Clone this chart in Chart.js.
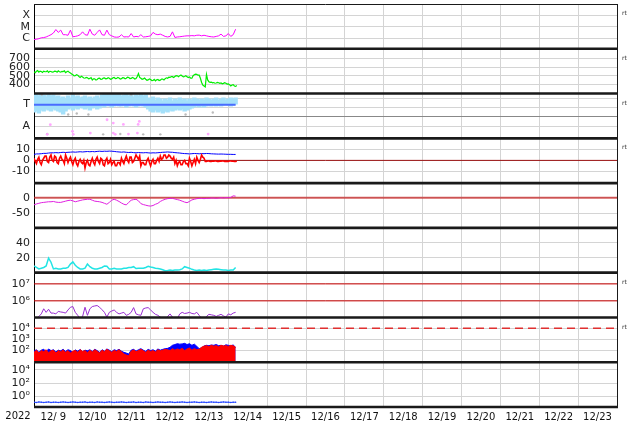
<!DOCTYPE html>
<html>
<head>
<meta charset="utf-8">
<script src="https://cdn.jsdelivr.net/npm/chart.js@4.4.1/dist/chart.umd.min.js"></script>
<style>
  html, body { margin: 0; padding: 0; background: #fff; }
  canvas { display: block; }
</style>
</head>
<body>
<canvas id="stack" width="634" height="424"></canvas>
<script>
// x = days since 2022-12-09 00:00, one sample every 1.5 h (45 min for the noisy series)
var STEP = 1 / 16;
var FINE_STEP = 1 / 32;
var DATA_END = 83 * STEP;
var dayTicks = [0, 1, 2, 3, 4, 5, 6, 7, 8, 9, 10, 11, 12, 13, 14, 15];
var dayLabels = ['12/ 9', '12/10', '12/11', '12/12', '12/13', '12/14', '12/15', '12/16',
  '12/17', '12/18', '12/19', '12/20', '12/21', '12/22', '12/23', ''];

// panel 1 : X-ray class (C=1, M=2, X=3)
var xrayClass = [
  0.88, 0.9, 0.95, 1.03, 1.05, 1.1, 1.2, 1.3, 1.45, 1.75, 1.5, 1.7,
  1.3, 1.3, 1.25, 1.7, 1.12, 1.15, 1.2, 1.3, 1.55, 1.3, 1.25, 1.78,
  1.35, 1.25, 1.5, 1.72, 1.3, 1.25, 1.7, 1.3, 1.2, 1.1, 1.08, 1.1,
  1.3, 1.1, 1.12, 1.1, 1.4, 1.1, 1.15, 1.12, 1.3, 1.1, 1.12, 1.15,
  1.2, 1.5, 1.35, 1.3, 1.35, 1.25, 1.15, 1.1, 1.15, 1.55, 1.06, 1.1,
  1.12, 1.15, 1.18, 1.2, 1.2, 1.22, 1.2, 1.25, 1.26, 1.2, 1.25, 1.2,
  1.15, 1.12, 1.1, 1.15, 1.2, 1.35, 1.15, 1.2, 1.4, 1.15, 1.3, 1.78];

// panel 2 : solar wind speed (fine steps)
var windSpeed = [
  545, 535, 550, 558, 540, 552, 548, 538, 552, 545, 545, 556, 538, 550, 548, 540, 542, 553, 550, 540, 555, 545, 540, 550,
  548, 556, 535, 545, 552, 538, 530, 520, 510, 498, 500, 512, 505, 490, 480, 492, 485, 472, 470, 480, 475, 462, 468, 478,
  450, 462, 462, 448, 455, 468, 470, 458, 460, 472, 475, 463, 465, 476, 470, 458, 462, 474, 478, 466, 468, 480, 472, 460,
  465, 476, 475, 463, 470, 482, 478, 466, 468, 479, 472, 461, 466, 490, 525, 480, 470, 458, 462, 473, 458, 446, 450, 462,
  455, 443, 445, 456, 440, 451, 455, 444, 448, 460, 460, 450, 465, 475, 470, 482, 480, 490, 488, 478, 490, 500, 498, 488,
  500, 508, 495, 486, 490, 498, 488, 478, 485, 470, 470, 500, 510, 518, 515, 505, 505, 470, 420, 390, 380, 370, 515, 450,
  430, 422, 425, 416, 420, 412, 415, 422, 418, 410, 415, 405, 410, 418, 412, 402, 405, 395, 380, 392, 395, 380, 375, 385];

// panel 3 : T / A band (upper and lower edge of the dense point cloud)
var T_LEVEL = 33.7;
var bandTop = [
  43, 44, 42, 44, 43, 41, 44, 42, 43, 41, 42, 40,
  41, 39, 42, 40, 43, 41, 42, 40, 41, 42, 40, 41,
  39, 41, 42, 40, 43, 44, 43, 44, 42, 44, 43, 44,
  42, 43, 44, 42, 43, 41, 43, 42, 44, 42, 43, 40,
  39, 41, 38, 40, 39, 37, 39, 38, 40, 37, 39, 38,
  40, 38, 39, 37, 39, 38, 40, 39, 38, 39, 38, 40,
  39, 38, 39, 40, 38, 39, 40, 38, 39, 40, 39, 40];
var bandBottom = [
  27, 28, 26, 29, 28, 30, 29, 28, 30, 29, 28, 27,
  25, 28, 30, 31, 29, 31, 30, 32, 31, 30, 31, 29,
  31, 32, 30, 31, 33, 32, 34, 33, 32, 33, 34, 33,
  33, 34, 32, 33, 34, 33, 32, 33, 34, 33, 32, 30,
  28, 27, 29, 27, 28, 26, 28, 27, 29, 28, 29, 30,
  29, 30, 28, 29, 30, 31, 32, 33, 32, 33, 32, 33,
  34, 33, 34, 33, 34, 33, 34, 35, 34, 33, 34, 35];
var pinkDays = [0.42, 0.34, 0.99, 1.01, 1.45, 1.88, 2.04, 2.04, 2.09, 2.3, 2.43, 2.66, 2.71, 2.68, 4.48];
var pinkVals = [13.7, 4, 7, 4, 5.3, 18.7, 15.3, 5.3, 4, 14, 4.3, 5.3, 17, 14, 4.3];
var grayDays = [0.34, 0.88, 1.4, 1.78, 2.22, 2.81, 3.25, 0.2, 1.1, 2.5, 3.9, 4.6];
var grayVals = [4.3, 24, 24, 4, 4.3, 4, 4, 44, 25, 44, 24, 26];

// panel 4 : IMF Bt (blue) and Bz (red, fine steps)
var imfBt = [
  5.5, 6, 6, 6.2, 6.5, 6.5, 6.8, 7, 7, 7.2, 7, 7.3,
  7.5, 7.3, 7.5, 7.6, 7.8, 7.6, 7.8, 8, 7.8, 8, 8.2, 8,
  8.2, 8, 8.3, 8.5, 8.3, 8.5, 8.4, 8.6, 8.5, 8.3, 8, 7.8,
  7.6, 7.8, 7.5, 7.3, 7.5, 7.2, 7, 7.3, 7.1, 7, 7.2, 7,
  6.8, 7, 6.9, 7.1, 7.3, 7.5, 7.6, 7.8, 7.6, 7.5, 7.2, 7,
  6.8, 6.5, 6.3, 6.2, 6, 6.2, 6.4, 6.3, 6.1, 6.3, 6.2, 6.4,
  6.3, 6.1, 6, 5.9, 5.8, 5.9, 5.8, 5.7, 5.6, 5.6, 5.5, 5.5];
var imfBz = [
  2, -1, -3, 1, 3, -2, -4, 0, 2, 4,
  4, -1, -2, 3, 5, 0, -1, 4, 3, -2, -3, 2, 4, 1, 0, -3, 5, 2, -2, 1, 3, -1,
  -4, 0, 2, -3, -5, -1, 1, -2,
  -3, 0, -7, -2, 0, -4, -5, -1,
  2, -2, -4, 1, 3, -1, -3, 2, 1, -4, -5, 0, 2, -3, -2, 1,
  -4, -2, -1, -5, -5, -2, -2, -4,
  2, -1, -3, 1, 4, 0, -2, 3, 3, -2, -1, 2,
  5, 3, 1, 4, -5, -2, -2, -4,
  -4, 0, 2, -2, -5, -1, 1, -3, -3, 0, 2, -1,
  4, 1, 2, 5, 5, 2, 3, 5, 4, 2, 1, 3,
  -3, 0, -5, -2, -1, -4, -4, -1, 0, -3, -3, -5,
  2, -1, -5, -2, 1, -3, 3, 0, -2, 1, 5, 3, 2, -1,
  -1, -0.5, -0.5, -1, -1, -0.6, -0.8, -0.5, -0.5, -1, -1, -0.7, -0.7,
  -0.5, -0.5, -0.9, -0.8, -1, -1, -0.6, -0.6, -0.8, -0.8, -1, -1, -0.8];

// panel 5
var dstIndex = [
  -23, -20, -18, -16, -15, -14, -13, -13, -12, -14, -15, -15,
  -13, -11, -9, -8, -10, -13, -11, -9, -7, -6, -5, -5,
  -8, -11, -12, -13, -15, -18, -21, -15, -8, -5, -8, -12,
  -17, -21, -23, -15, -8, -6, -5, -10, -19, -22, -24, -26,
  -27, -25, -21, -18, -12, -8, -5, -3, -2, -2, -4, -6,
  -8, -11, -14, -16, -12, -7, -5, -3, -2, -2, -3, -2,
  -2, -1, -1, -2, -1, 0, -1, 0, 0, 1, 6, 5];

// panel 6
var density = [
  9, 7, 5, 6, 7, 9, 19.5, 14, 5, 6, 5, 5,
  6, 6, 7, 11.5, 14.5, 10, 7, 5, 5, 6, 11.5, 8,
  6, 5, 5, 6, 7, 9, 8.5, 5, 5, 6, 5, 5,
  5, 6, 6, 7, 7, 8, 5.5, 6, 6, 6, 7, 8.5,
  7.5, 7, 6, 5.5, 5, 4, 2.7, 3, 3.5, 3, 3.5, 3.5,
  4, 5, 8, 7, 6, 4.5, 3.5, 3, 3.5, 3, 3.5, 3,
  3.5, 4, 4.5, 5, 4.5, 4, 3.5, 3.5, 3, 3.5, 3.5, 7];

// panel 7 : electron flux, thresholds 1e7 / 1e6
var electronFlux = [
  0.8e5, 0.9e5, 1.2e5, 1.7e5, 3.4e5, 2.1e5, 3.2e5, 1.9e5, 1.9e5, 1.7e5, 2.4e5, 2.2e5,
  2.1e5, 1.9e5, 2.9e5, 4.2e5, 4.6e5, 2.1e5, 1.4e5, 0.9e5, 1.2e5, 4.2e5, 1.4e5, 3.4e5,
  4.6e5, 5e5, 5.3e5, 4.2e5, 3e5, 2.1e5, 1.1e5, 2.1e5, 2.5e5, 2.9e5, 2.1e5, 1.7e5,
  1.9e5, 2.1e5, 1.4e5, 1.6e5, 2.1e5, 4e5, 1.7e5, 1.5e5, 1.4e5, 3.4e5, 3.8e5, 4e5,
  2.9e5, 2.1e5, 1.6e5, 1.4e5, 1.1e5, 0.8e5, 0.8e5, 1.2e5, 1.7e5, 1.1e5, 0.8e5, 0.9e5,
  1.7e5, 2.1e5, 1.8e5, 1.9e5, 2.1e5, 1.8e5, 1.7e5, 2.1e5, 1.4e5, 0.9e5, 0.8e5, 1.2e5,
  1.6e5, 1.5e5, 1.4e5, 1.2e5, 1.4e5, 1.6e5, 1.3e5, 1.1e5, 1.7e5, 1.5e5, 1.9e5, 2.1e5];
var electronLimits = [1e7, 1e6];

// panel 8 : two channels, threshold 1e4
var fluxBlue = [
  90, 120, 70, 110, 130, 80, 140, 100, 120, 75, 110, 95,
  130, 85, 120, 100, 70, 115, 90, 125, 80, 110, 95, 120,
  85, 130, 100, 70, 120, 90, 140, 110, 80, 120, 100, 130,
  90, 70, 60, 50, 110, 130, 90, 120, 150, 110, 85, 130,
  100, 120, 90, 140, 110, 130, 150, 160, 200, 300, 350, 420,
  380, 400, 450, 350, 420, 300, 380, 250, 150, 180, 260, 300,
  280, 320, 300, 350, 280, 300, 260, 330, 300, 280, 320, 200];
var fluxRed = [
  70, 110, 60, 100, 80, 120, 65, 95, 110, 60, 100, 80,
  115, 70, 100, 60, 90, 105, 70, 120, 85, 100, 65, 110,
  75, 120, 90, 60, 110, 80, 130, 95, 70, 105, 85, 120,
  80, 50, 40, 35, 90, 115, 80, 100, 130, 95, 70, 110,
  85, 100, 75, 120, 95, 110, 130, 120, 100, 150, 110, 140,
  120, 160, 100, 140, 170, 110, 150, 120, 130, 200, 250, 280,
  230, 300, 250, 280, 220, 300, 260, 280, 240, 300, 270, 200];
var fluxLimit = 1e4;

// panel 9
var lowFlux = [
  0.13, 0.12, 0.14, 0.13, 0.12, 0.13, 0.14, 0.12, 0.13, 0.13, 0.12, 0.13,
  0.14, 0.13, 0.12, 0.13, 0.14, 0.13, 0.12, 0.13, 0.13, 0.14, 0.12, 0.13,
  0.13, 0.12, 0.14, 0.13, 0.13, 0.12, 0.13, 0.14, 0.13, 0.12, 0.13, 0.13,
  0.14, 0.13, 0.12, 0.13, 0.13, 0.14, 0.12, 0.13, 0.13, 0.12, 0.14, 0.13,
  0.13, 0.12, 0.13, 0.14, 0.13, 0.13, 0.12, 0.13, 0.14, 0.13, 0.12, 0.13,
  0.13, 0.14, 0.13, 0.12, 0.13, 0.13, 0.14, 0.13, 0.12, 0.13, 0.13, 0.12,
  0.13, 0.14, 0.13, 0.13, 0.12, 0.13, 0.14, 0.13, 0.13, 0.12, 0.13, 0.13];

var FONT = 'DejaVu Sans';

function pts(vals, step) {
  step = step || STEP;
  return vals.map(function(v, i) { return {x: i * step, y: v}; });
}
function ranges(lo, hi) {
  return lo.map(function(v, i) { return {x: i * STEP, y: [v, hi[i]]}; });
}
function pairs(days, vals) {
  return days.map(function(d, i) { return {x: d, y: vals[i]}; });
}
function flat(v, x0, x1) {
  return [{x: x0, y: v}, {x: x1, y: v}];
}
function line(axis, data, color, width, extra) {
  var ds = {yAxisID: axis, data: data, borderColor: color, borderWidth: width,
    pointRadius: 0, tension: 0, fill: false};
  return Object.assign(ds, extra || {});
}

function yAxis(weight, type, min, max, ticks, labels, gridColor) {
  return {
    type: type, position: 'left', stack: 'panels', stackWeight: 1, weight: weight,
    min: min, max: max,
    grid: {drawTicks: false, color: gridColor || '#d4d4d4'},
    border: {color: '#000', width: 1},
    ticks: {
      font: {family: FONT, size: 11}, color: '#222', padding: 4, autoSkip: false,
      callback: function(v) { return labels[v] !== undefined ? labels[v] : ''; }
    },
    afterBuildTicks: function(s) { s.ticks = ticks.map(function(v) { return {value: v}; }); },
    afterFit: function(s) { s.width = 34; s.paddingTop = 0; s.paddingBottom = 0; }
  };
}

var panelTicks3 = [40, 34, 31, 22.3, 12];
var panelLabels3 = {34: 'T', 12: 'A'};

var panelDecor = {
  id: 'panelDecor',
  beforeDatasetDraw: function(chart, args) {
    var ys = args.meta.yScale, a = chart.chartArea, ctx = chart.ctx;
    ctx.save();
    ctx.beginPath();
    ctx.rect(a.left, ys.top, a.right - a.left, ys.bottom - ys.top);
    ctx.clip();
  },
  afterDatasetDraw: function(chart) {
    chart.ctx.restore();
  },
  afterDraw: function(chart) {
    var ctx = chart.ctx, a = chart.chartArea;
    var ids = ['y1', 'y2', 'y3', 'y4', 'y5', 'y6', 'y7', 'y8', 'y9'];
    ctx.save();
    ctx.strokeStyle = '#1a1a1a';
    ctx.lineWidth = 1;
    ctx.beginPath();
    ctx.moveTo(a.left, a.top + 0.5); ctx.lineTo(a.right, a.top + 0.5);
    ctx.moveTo(a.right + 0.5, a.top); ctx.lineTo(a.right + 0.5, a.bottom);
    ctx.stroke();
    ctx.lineWidth = 2.6;
    ctx.beginPath();
    ids.slice(1).forEach(function(id) {
      var s = chart.scales[id];
      ctx.moveTo(a.left, s.top); ctx.lineTo(a.right + 1, s.top);
    });
    ctx.moveTo(a.left, a.bottom); ctx.lineTo(a.right + 1, a.bottom);
    ctx.stroke();

    ctx.fillStyle = '#333';
    ctx.font = '6px ' + FONT;
    ctx.textAlign = 'left';
    ctx.textBaseline = 'middle';
    ['y1', 'y2', 'y3', 'y4', 'y7', 'y8'].forEach(function(id) {
      ctx.fillText('rt', a.right + 5, chart.scales[id].top + 9.5);
    });

    ctx.fillStyle = '#111';
    ctx.font = '10px ' + FONT;
    ctx.textAlign = 'center';
    ctx.textBaseline = 'top';
    ctx.fillText('2022', 18, a.bottom + 4);
    ctx.restore();
  }
};

var datasets = [
  line('y1', pts(xrayClass), '#ff00ff', 1),
  line('y2', pts(windSpeed, FINE_STEP), '#00ee00', 1.2),
  {type: 'bar', yAxisID: 'y3', data: ranges(bandBottom, bandTop), backgroundColor: '#a4e0fa',
    borderWidth: 0, barPercentage: 1, categoryPercentage: 1, grouped: false, inflateAmount: 1},
  line('y3', pairs(grayDays, grayVals), '#bbbbbb', 0, {showLine: false, pointRadius: 1.2, pointBackgroundColor: '#bbbbbb', pointBorderWidth: 0}),
  line('y3', pairs(pinkDays, pinkVals), '#ffa8ff', 0, {showLine: false, pointRadius: 1.4, pointBackgroundColor: '#ffa8ff', pointBorderWidth: 0}),
  line('y3', flat(T_LEVEL, 0, DATA_END), '#4a6cff', 2),
  line('y4', flat(0, 0, 15), '#9b1010', 1),
  line('y4', pts(imfBt), '#0000ff', 1),
  line('y4', pts(imfBz, FINE_STEP), '#ff0000', 1.6),
  line('y5', flat(0, 0, 15), 'rgba(200,40,40,0.75)', 2),
  line('y5', pts(dstIndex), '#e01ee0', 1),
  line('y6', pts(density), '#22e4e4', 1.5),
  line('y7', flat(electronLimits[0], 0, 15), '#cc0000', 1),
  line('y7', flat(electronLimits[1], 0, 15), '#cc0000', 1),
  line('y7', pts(electronFlux), '#9a2fd2', 1),
  line('y8', pts(fluxBlue), '#0000ff', 1, {fill: 'start', backgroundColor: '#0000ff'}),
  line('y8', pts(fluxRed), '#ff0000', 1, {fill: 'start', backgroundColor: '#ff0000'}),
  line('y8', flat(fluxLimit, 0, 15), '#e03030', 1.5, {borderDash: [8, 5]}),
  line('y9', pts(lowFlux), '#2244ff', 1, {pointRadius: 0.8, pointBackgroundColor: '#2244ff', pointBorderWidth: 0})
];
// later entries are painted over earlier ones
datasets.forEach(function(d, i) { d.order = -i; });

new Chart(document.getElementById('stack'), {
  type: 'line',
  plugins: [panelDecor],
  data: {datasets: datasets},
  options: {
    responsive: false,
    animation: false,
    devicePixelRatio: 1,
    layout: {padding: {left: 0, right: 17, top: 2, bottom: 0}},
    plugins: {legend: {display: false}, tooltip: {enabled: false}},
    scales: {
      x: {
        type: 'linear', position: 'bottom', min: 0, max: 15, offset: false,
        grid: {drawTicks: false, color: '#d4d4d4', offset: false},
        border: {display: false},
        ticks: {
          font: {family: FONT, size: 10}, color: '#111', padding: 4,
          labelOffset: 19.4, autoSkip: false, maxRotation: 0, minRotation: 0,
          callback: function(v) { return dayLabels[v] || ''; }
        },
        afterBuildTicks: function(s) { s.ticks = dayTicks.map(function(v) { return {value: v}; }); },
        afterFit: function(s) { s.height = 17; s.paddingLeft = 0; s.paddingRight = 0; }
      },
      y1: yAxis(9, 'linear', 0.07, 3.98, [1, 2, 3], {1: 'C', 2: 'M', 3: 'X'}),
      y2: yAxis(8, 'linear', 292, 812, [400, 500, 600, 700], {400: '400', 500: '500', 600: '600', 700: '700'}),
      y3: yAxis(7, 'linear', 0, 45, panelTicks3, panelLabels3, function(c) {
        if (c.tick.value === 34) return 'rgba(0,0,0,0)';
        return c.tick.value === 22.3 ? '#888' : '#d4d4d4';
      }),
      y4: yAxis(6, 'linear', -21, 20.4, [-10, 0, 10], {'-10': '-10', 0: '0', 10: '10'}),
      y5: yAxis(5, 'linear', -97, 47, [-50, 0], {'-50': '-50', 0: '0'}),
      y6: yAxis(4, 'linear', 0, 60, [20, 40], {20: '20', 40: '40'}),
      y7: yAxis(3, 'logarithmic', 1.05e5, 4.6e7, [1e6, 1e7], {1000000: '10\u2076', 10000000: '10\u2077'}),
      y8: yAxis(2, 'logarithmic', 9.1, 9.5e4, [100, 1000, 10000], {100: '10\u00b2', 1000: '10\u00b3', 10000: '10\u2074'}),
      y9: yAxis(1, 'logarithmic', 0.0245, 1.45e5, [1, 100, 10000], {1: '10\u2070', 100: '10\u00b2', 10000: '10\u2074'})
    }
  }
});
</script>
</body>
</html>
